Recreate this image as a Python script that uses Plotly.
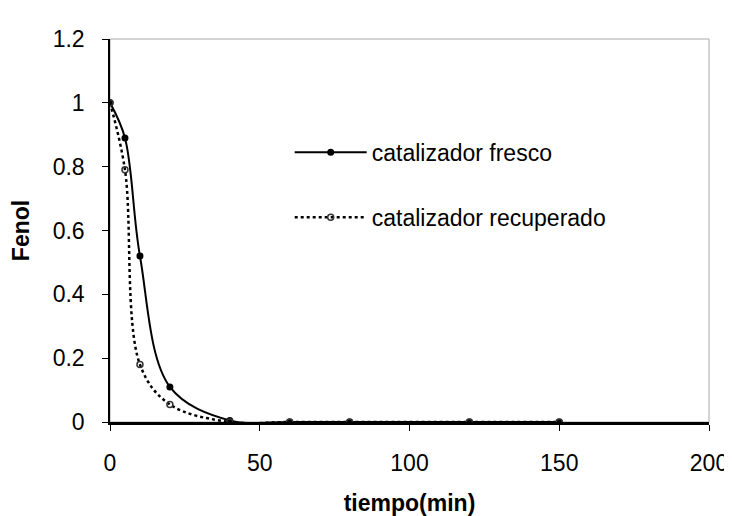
import plotly.graph_objects as go

tiempo = [0, 5, 10, 20, 40, 60, 80, 120, 150]
fresco = [1.0, 0.89, 0.52, 0.11, 0.005, 0.0, 0.0, 0.0, 0.0]
recuperado = [1.0, 0.79, 0.18, 0.055, 0.0, 0.0, 0.0, 0.0, 0.0]
x_ticks = [0, 50, 100, 150, 200]
y_ticks = [0, 0.2, 0.4, 0.6, 0.8, 1, 1.2]
y_tick_labels = ["0", "0.2", "0.4", "0.6", "0.8", "1", "1.2"]

FONT = "Liberation Sans, Arial, sans-serif"

fig = go.Figure()
fig.add_trace(go.Scatter(
    x=tiempo, y=fresco, name="catalizador fresco", mode="lines+markers",
    line=dict(color="black", width=2, shape="spline", smoothing=1),
    marker=dict(symbol="circle", size=7, color="black"),
    legendgroup="a",
))
fig.add_trace(go.Scatter(
    x=tiempo, y=recuperado, name="catalizador recuperado", mode="lines+markers",
    line=dict(color="black", width=2.5, dash="dot", shape="spline", smoothing=1),
    marker=dict(symbol="circle-open", size=6, color="#333", line=dict(width=1.5)),
    legendgroup="b",
))

fig.update_layout(
    width=732, height=516,
    margin=dict(l=101, r=24, t=31, b=101),
    paper_bgcolor="white", plot_bgcolor="white",
    font=dict(family=FONT, size=23, color="black"),
    showlegend=True,
    legend=dict(x=0.30, y=0.76, xanchor="left", yanchor="top",
                bgcolor="rgba(0,0,0,0)", tracegroupgap=32,
                itemwidth=72, font=dict(size=23)),
    shapes=[dict(type="rect", xref="paper", yref="paper", x0=0, x1=1, y0=0, y1=1,
                 line=dict(color="#a8a8a8", width=1), layer="below")],
)
fig.update_xaxes(
    range=[0, 200], tickvals=x_ticks, showgrid=False, zeroline=False,
    showline=True, linecolor="black", linewidth=2.5,
    ticks="outside", ticklen=6, tickcolor="black", tickwidth=1,
    tickfont=dict(size=23), ticklabelstandoff=13,
    title=dict(text="<b>tiempo(min)</b>", font=dict(size=23), standoff=20),
)
fig.update_yaxes(
    range=[0, 1.2], tickvals=y_ticks, ticktext=y_tick_labels, showgrid=False,
    zeroline=False, showline=True, linecolor="black", linewidth=1.5,
    ticks="outside", ticklen=6, tickcolor="black", tickwidth=1,
    tickfont=dict(size=23), ticklabelstandoff=13,
    title=dict(text="<b>Fenol</b>", font=dict(size=23), standoff=17),
)

fig.write_html("out.html")
